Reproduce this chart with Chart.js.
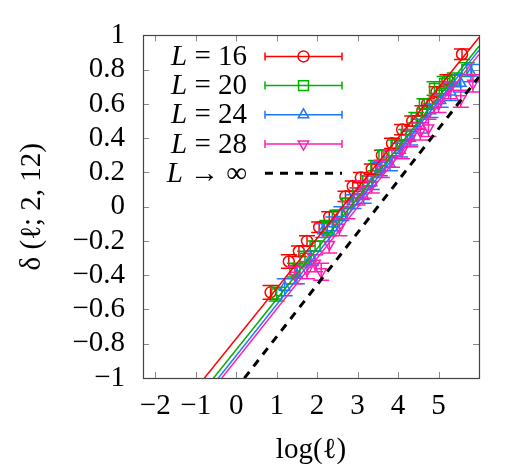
<!DOCTYPE html>
<html>
<head>
<meta charset="utf-8">
<script src="https://cdn.jsdelivr.net/npm/chart.js@4.4.0/dist/chart.umd.min.js"></script>
<style>
html, body { margin: 0; padding: 0; background: #fff; }
</style>
</head>
<body>
<canvas id="chart" width="532" height="473"></canvas>
<script>
// values
let l16X = [0.85, 1.30, 1.55, 1.75, 2.05, 2.30, 2.70, 2.88, 3.08, 3.35, 3.60, 3.85, 4.10, 4.35, 4.60, 4.72, 4.95, 5.22, 5.58];
let l16Y = [-0.50, -0.32, -0.26, -0.20, -0.12, -0.06, 0.06, 0.12, 0.17, 0.22, 0.30, 0.37, 0.45, 0.50, 0.56, 0.60, 0.67, 0.74, 0.89];
let l16Err = [0.04, 0.04, 0.03, 0.03, 0.03, 0.03, 0.03, 0.03, 0.03, 0.03, 0.03, 0.03, 0.03, 0.03, 0.03, 0.03, 0.03, 0.03, 0.03];

let l20X = [1.00, 1.45, 1.70, 1.95, 2.25, 2.50, 2.75, 3.00, 3.25, 3.45, 3.65, 3.95, 4.20, 4.45, 4.65, 4.90, 5.15, 5.40, 5.70];
let l20Y = [-0.51, -0.37, -0.30, -0.23, -0.12, -0.05, 0.02, 0.08, 0.15, 0.24, 0.30, 0.36, 0.42, 0.52, 0.60, 0.69, 0.72, 0.74, 0.80];
let l20Err = [0.04, 0.04, 0.04, 0.03, 0.04, 0.03, 0.03, 0.03, 0.03, 0.03, 0.03, 0.03, 0.03, 0.03, 0.03, 0.04, 0.04, 0.04, 0.04];

let l24X = [1.20, 1.50, 1.85, 2.15, 2.40, 2.60, 2.90, 3.15, 3.35, 3.55, 3.80, 4.05, 4.30, 4.55, 4.80, 5.05, 5.30, 5.55, 5.80];
let l24Y = [-0.47, -0.40, -0.30, -0.14, -0.10, -0.04, 0.03, 0.06, 0.14, 0.22, 0.25, 0.33, 0.40, 0.47, 0.56, 0.62, 0.67, 0.72, 0.78];
let l24Err = [0.05, 0.05, 0.04, 0.04, 0.04, 0.04, 0.04, 0.04, 0.04, 0.04, 0.04, 0.04, 0.04, 0.04, 0.04, 0.04, 0.05, 0.05, 0.05];

let l28X = [1.45, 1.75, 1.95, 2.10, 2.30, 2.55, 2.75, 3.00, 3.15, 3.35, 3.60, 3.85, 4.10, 4.30, 4.55, 4.75, 5.00, 5.25, 5.55, 5.85];
let l28Y = [-0.40, -0.37, -0.33, -0.38, -0.22, -0.12, -0.02, 0.06, 0.10, 0.13, 0.22, 0.28, 0.33, 0.40, 0.44, 0.46, 0.60, 0.68, 0.63, 0.72];
let l28Err = [0.05, 0.05, 0.05, 0.05, 0.05, 0.05, 0.05, 0.05, 0.05, 0.05, 0.05, 0.05, 0.05, 0.05, 0.05, 0.05, 0.05, 0.05, 0.05, 0.05];

// fitted straight lines, given by their values at the two x limits
let fitX = [-2.3026, 6];
let fit16 = [-1.445, 0.988];
let fit20 = [-1.515, 0.937];
let fit24 = [-1.554, 0.914];
let fit28 = [-1.579, 0.889];
let fitInf = [-1.761, 0.758];

let xTicks = [-2, -1, 0, 1, 2, 3, 4, 5];
let yTicks = [-1, -0.8, -0.6, -0.4, -0.2, 0, 0.2, 0.4, 0.6, 0.8, 1];

const RED = '#ff0000';
const GREEN = '#00b000';
const BLUE = '#1e78ff';
const MAGENTA = '#ff1eb4';
const FONT = '"Liberation Serif", "DejaVu Serif", serif';
const FSIZE = 29;

Chart.defaults.font.family = FONT;
Chart.defaults.color = '#000';

function points(xs, ys) {
    return xs.map((x, i) => ({x: x, y: ys[i]}));
}

function fmt(v) {
    let r = Math.round(v * 10) / 10;
    let s = Number.isInteger(r) ? String(Math.abs(r)) : Math.abs(r).toFixed(1);
    return (r < 0 ? '\u2212' : '') + s;
}

function dataSet(xs, ys, errs, color, style, radius, rotation, order) {
    return {
        type: 'scatter',
        data: points(xs, ys),
        errors: errs,
        borderColor: color,
        backgroundColor: 'rgba(0,0,0,0)',
        pointStyle: style,
        pointRadius: radius,
        pointRotation: rotation,
        pointBorderWidth: 1.5,
        order: order,
        clip: 0
    };
}

function fitLine(ys, color, width, dash) {
    return {
        type: 'line',
        data: points(fitX, ys),
        borderColor: color,
        borderWidth: width,
        borderDash: dash,
        pointRadius: 0,
        fill: false,
        order: 1,
        clip: 0
    };
}

const errorBars = {
    id: 'errorBars',
    afterDatasetDraw(chart, args) {
        let ds = chart.data.datasets[args.index];
        if (!ds.errors) return;
        let ctx = chart.ctx, x = chart.scales.x, y = chart.scales.y, a = chart.chartArea;
        ctx.save();
        ctx.beginPath();
        ctx.rect(a.left, a.top, a.right - a.left, a.bottom - a.top);
        ctx.clip();
        ctx.strokeStyle = ds.borderColor;
        ctx.lineWidth = 1.5;
        ds.data.forEach((p, i) => {
            let px = x.getPixelForValue(p.x);
            let top = y.getPixelForValue(p.y + ds.errors[i]);
            let bot = y.getPixelForValue(p.y - ds.errors[i]);
            ctx.beginPath();
            ctx.moveTo(px, top); ctx.lineTo(px, bot);
            ctx.moveTo(px - 8, top); ctx.lineTo(px + 8, top);
            ctx.moveTo(px - 8, bot); ctx.lineTo(px + 8, bot);
            ctx.stroke();
        });
        ctx.restore();
    }
};

// frame with inward ticks on all four sides
const frame = {
    id: 'frame',
    afterDraw(chart) {
        let ctx = chart.ctx, a = chart.chartArea, x = chart.scales.x, y = chart.scales.y;
        ctx.save();
        ctx.strokeStyle = '#888';
        ctx.lineWidth = 1;
        ctx.beginPath();
        xTicks.forEach(v => {
            let px = Math.round(x.getPixelForValue(v)) + 0.5;
            ctx.moveTo(px, a.bottom); ctx.lineTo(px, a.bottom - 6);
            ctx.moveTo(px, a.top); ctx.lineTo(px, a.top + 6);
        });
        yTicks.forEach(v => {
            let py = Math.round(y.getPixelForValue(v)) + 0.5;
            ctx.moveTo(a.left, py); ctx.lineTo(a.left + 6, py);
            ctx.moveTo(a.right, py); ctx.lineTo(a.right - 6, py);
        });
        ctx.stroke();
        ctx.strokeStyle = '#444';
        ctx.lineWidth = 1.2;
        ctx.strokeRect(Math.round(a.left) + 0.5, Math.round(a.top) + 0.5,
            Math.round(a.right - a.left), Math.round(a.bottom - a.top));
        ctx.restore();
    }
};

const keyRows = [
    {rest: ' = 16', color: RED, style: 'circle', radius: 5.5, rotation: 0},
    {rest: ' = 20', color: GREEN, style: 'rect', radius: 7, rotation: 0},
    {rest: ' = 24', color: BLUE, style: 'triangle', radius: 6, rotation: 0},
    {rest: ' = 28', color: MAGENTA, style: 'triangle', radius: 6, rotation: 180},
    {rest: ' \u2192 \u221e', color: '#000', style: null}
];

const key = {
    id: 'key',
    afterDraw(chart) {
        let ctx = chart.ctx, a = chart.chartArea;
        let textRight = a.left + 104, x0 = a.left + 122, x1 = a.left + 199;
        ctx.save();
        ctx.textBaseline = 'middle';
        keyRows.forEach((r, i) => {
            let yy = a.top + 21 + i * 29.2;
            ctx.fillStyle = '#000';
            ctx.font = FSIZE + 'px ' + FONT;
            let w2 = ctx.measureText(r.rest).width;
            ctx.textAlign = 'left';
            ctx.fillText(r.rest, textRight - w2, yy + 1);
            ctx.font = 'italic ' + FSIZE + 'px ' + FONT;
            let w1 = ctx.measureText('L').width;
            ctx.fillText('L', textRight - w2 - w1, yy + 1);

            ctx.strokeStyle = r.color;
            if (r.style) {
                ctx.lineWidth = 1.5;
                ctx.setLineDash([]);
                ctx.beginPath();
                ctx.moveTo(x0, yy); ctx.lineTo(x1, yy);
                ctx.moveTo(x0, yy - 4); ctx.lineTo(x0, yy + 4);
                ctx.moveTo(x1, yy - 4); ctx.lineTo(x1, yy + 4);
                ctx.stroke();
                ctx.fillStyle = 'rgba(0,0,0,0)';
                Chart.helpers.drawPoint(ctx, {pointStyle: r.style, radius: r.radius, rotation: r.rotation, borderWidth: 1.5}, (x0 + x1) / 2, yy);
            } else {
                ctx.lineWidth = 3;
                ctx.setLineDash([8, 7]);
                ctx.beginPath();
                ctx.moveTo(x0, yy); ctx.lineTo(x1, yy);
                ctx.stroke();
            }
        });
        ctx.restore();
    }
};

new Chart(document.getElementById('chart'), {
    data: {
        datasets: [
            dataSet(l16X, l16Y, l16Err, RED, 'circle', 5.5, 0, 9),
            dataSet(l20X, l20Y, l20Err, GREEN, 'rect', 7, 0, 8),
            dataSet(l24X, l24Y, l24Err, BLUE, 'triangle', 6, 0, 7),
            dataSet(l28X, l28Y, l28Err, MAGENTA, 'triangle', 6, 180, 6),
            fitLine(fit16, RED, 1.5, []),
            fitLine(fit20, GREEN, 1.5, []),
            fitLine(fit24, BLUE, 1.5, []),
            fitLine(fit28, MAGENTA, 1.5, []),
            fitLine(fitInf, '#000', 3, [8, 7])
        ]
    },
    options: {
        responsive: false,
        animation: false,
        layout: {padding: {left: 0, top: 29, right: 53, bottom: 0}},
        plugins: {
            legend: {display: false},
            tooltip: {enabled: false}
        },
        scales: {
            x: {
                type: 'linear',
                min: -2.3026,
                max: 6,
                afterBuildTicks: s => { s.ticks = xTicks.map(v => ({value: v})); },
                afterFit: s => { s.height = 95; },
                grid: {display: false, drawTicks: false},
                border: {display: false},
                ticks: {
                    padding: 11,
                    font: {size: FSIZE},
                    callback: v => fmt(v),
                    autoSkip: false,
                    maxRotation: 0
                },
                title: {
                    display: true,
                    text: 'log(\u2113)',
                    font: {size: FSIZE},
                    padding: {top: 0, bottom: 5}
                }
            },
            y: {
                type: 'linear',
                min: -1,
                max: 1,
                afterBuildTicks: s => { s.ticks = yTicks.map(v => ({value: v})); },
                afterFit: s => { s.width = 143; },
                grid: {display: false, drawTicks: false},
                border: {display: false},
                ticks: {
                    padding: 18,
                    font: {size: FSIZE},
                    callback: v => fmt(v),
                    autoSkip: false
                },
                title: {
                    display: true,
                    text: '\u03b4 (\u2113; 2, 12)',
                    font: {size: FSIZE},
                    padding: {top: 15, bottom: 0}
                }
            }
        }
    },
    plugins: [errorBars, frame, key]
});
</script>
</body>
</html>
